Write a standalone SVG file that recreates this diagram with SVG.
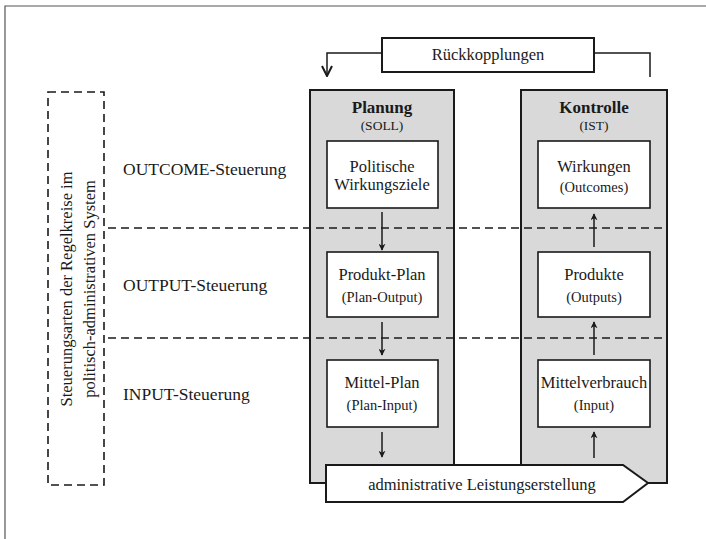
<svg xmlns="http://www.w3.org/2000/svg" width="706" height="539" viewBox="0 0 706 539">
<style>
text{font-family:"Liberation Serif","Times New Roman",serif;fill:#1a1a1a;text-anchor:middle}
.col{fill:#d9d9d9;stroke:#1a1a1a;stroke-width:2}
.box{fill:#fff;stroke:#1a1a1a;stroke-width:1.6}
.t{font-size:16.5px}
.s{font-size:14.5px}
.h{font-size:17px;font-weight:bold}
.hs{font-size:13.5px}
.lab{font-size:17.5px;text-anchor:start}
.dash{fill:none;stroke:#1a1a1a;stroke-width:1.6;stroke-dasharray:8 5}
.ln{fill:none;stroke:#1a1a1a;stroke-width:1.5}
</style>
<defs>
<marker id="ah" viewBox="0 0 10 10" refX="9" refY="5" markerWidth="7" markerHeight="7" markerUnits="userSpaceOnUse" orient="auto">
<path d="M0,0 L10,5 L0,10 L3,5 Z" fill="#1a1a1a"/>
</marker>
<marker id="av" viewBox="0 0 12 12" refX="11" refY="6" markerWidth="12" markerHeight="12" markerUnits="userSpaceOnUse" orient="auto">
<path d="M1,1 L11,6 L1,11" fill="none" stroke="#1a1a1a" stroke-width="2"/>
</marker>
</defs>
<g id="frame">
<path d="M5,539 V6 H706" fill="none" stroke="#555" stroke-width="1.2"/>
</g>
<g id="side-label">
<rect x="48" y="92" width="56" height="393" class="dash" stroke-dasharray="6 4"/>
<text transform="translate(72,289) rotate(-90)" class="t">Steuerungsarten der Regelkreise im</text>
<text transform="translate(95,289) rotate(-90)" class="t">politisch-administrativen System</text>
</g>
<g id="levels">
<text x="123" y="175" class="lab">OUTCOME-Steuerung</text>
<text x="123" y="291" class="lab">OUTPUT-Steuerung</text>
<text x="123" y="400" class="lab">INPUT-Steuerung</text>
</g>
<g id="planung">
<rect x="310" y="90" width="144" height="393" class="col"/>
<text x="382" y="113" class="h">Planung</text>
<text x="382" y="130" class="hs">(SOLL)</text>
</g>
<g id="kontrolle">
<rect x="521" y="90" width="146" height="393" class="col"/>
<text x="594" y="113" class="h">Kontrolle</text>
<text x="594" y="130" class="hs">(IST)</text>
</g>
<g id="wirkungsziele">
<rect x="327" y="141" width="111" height="67" class="box"/>
<text x="382" y="172" class="t">Politische</text>
<text x="382" y="190" class="t">Wirkungsziele</text>
</g>
<g id="produkt-plan">
<rect x="327" y="252" width="111" height="65" class="box"/>
<text x="382" y="280" class="t">Produkt-Plan</text>
<text x="382" y="302" class="s">(Plan-Output)</text>
</g>
<g id="mittel-plan">
<rect x="327" y="360" width="111" height="67" class="box"/>
<text x="382" y="388" class="t">Mittel-Plan</text>
<text x="382" y="410" class="s">(Plan-Input)</text>
</g>
<g id="wirkungen">
<rect x="538" y="141" width="112" height="67" class="box"/>
<text x="594" y="172" class="t">Wirkungen</text>
<text x="594" y="192" class="s">(Outcomes)</text>
</g>
<g id="produkte">
<rect x="538" y="252" width="112" height="65" class="box"/>
<text x="594" y="280" class="t">Produkte</text>
<text x="594" y="302" class="s">(Outputs)</text>
</g>
<g id="mittelverbrauch">
<rect x="538" y="360" width="112" height="67" class="box"/>
<text x="594" y="388" class="t">Mittelverbrauch</text>
<text x="594" y="410" class="s">(Input)</text>
</g>
<g id="separators">
<line x1="108" y1="228" x2="665" y2="228" class="dash"/>
<line x1="108" y1="338" x2="665" y2="338" class="dash"/>
</g>
<g id="leistungserstellung">
<path d="M326,465 H623 L648,483 L623,502 H326 Z" fill="#fff" stroke="#1a1a1a" stroke-width="2"/>
<text x="482" y="490" class="t">administrative Leistungserstellung</text>
</g>
<g id="rueckkopplungen">
<rect x="382" y="38" width="212" height="34" fill="#fff" stroke="#1a1a1a" stroke-width="2"/>
<text x="488" y="60" class="t">Rückkopplungen</text>
</g>
<g id="connectors">
<path d="M382,53 H327 V76" class="ln" stroke-width="2" marker-end="url(#av)"/>
<path d="M594,53 H650 V77" class="ln" stroke-width="2"/>
<line x1="382" y1="212" x2="382" y2="250" class="ln" marker-end="url(#ah)"/>
<line x1="382" y1="322" x2="382" y2="355" class="ln" marker-end="url(#ah)"/>
<line x1="382" y1="432" x2="382" y2="457" class="ln" marker-end="url(#ah)"/>
<line x1="594" y1="247" x2="594" y2="214" class="ln" marker-end="url(#ah)"/>
<line x1="594" y1="355" x2="594" y2="322" class="ln" marker-end="url(#ah)"/>
<line x1="594" y1="458" x2="594" y2="432" class="ln" marker-end="url(#ah)"/>
</g>
</svg>
